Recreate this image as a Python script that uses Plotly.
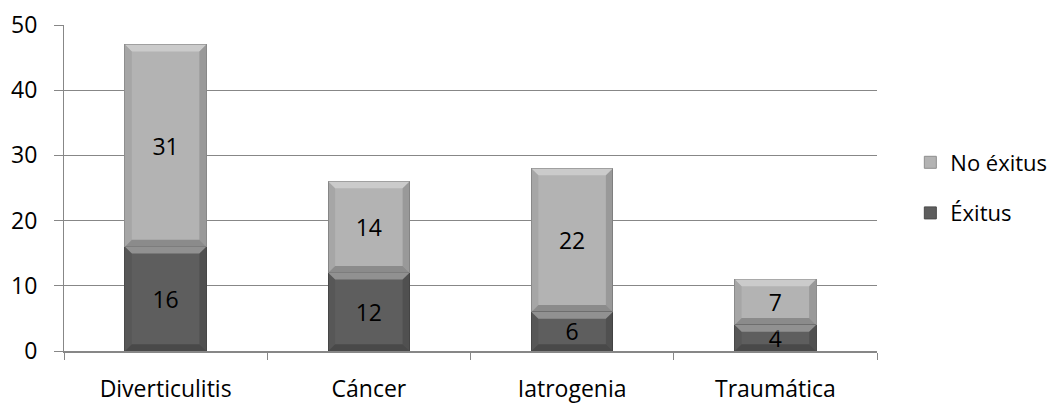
import plotly.graph_objects as go

# Stacked counts per aetiology
categorias = ["Diverticulitis", "Cáncer", "Iatrogenia", "Traumática"]
exitus = [16, 12, 6, 4]
no_exitus = [31, 14, 22, 7]
y_ticks = [0, 10, 20, 30, 40, 50]

FONT = "'Open Sans', Lato, 'Liberation Sans', sans-serif"
FS = 23
BAR_W = 0.4
GRID = "#878787"

x_idx = list(range(len(categorias)))

fig = go.Figure()
fig.add_trace(go.Bar(
    name="Éxitus", x=x_idx, y=exitus, width=BAR_W,
    marker=dict(color="#5e5e5e", line=dict(color="#4a4a4a", width=1)),
    text=exitus, textposition="inside", insidetextanchor="middle", textangle=0,
    textfont=dict(color="#000000", size=FS, family=FONT),
    legendgroup="a", legendrank=2,
))
fig.add_trace(go.Bar(
    name="No éxitus", x=x_idx, y=no_exitus, width=BAR_W,
    marker=dict(color="#b3b3b3", line=dict(color="#8e8e8e", width=1)),
    text=no_exitus, textposition="inside", insidetextanchor="middle", textangle=0,
    textfont=dict(color="#000000", size=FS, family=FONT),
    legendgroup="b", legendrank=1,
))

# Bevelled edges on every stacked segment, derived from the stacked values
bx = 0.034
by = 1.05
shapes = []
for i, (lo, hi) in enumerate(zip(exitus, no_exitus)):
    for y0, y1 in ((0, lo), (lo, lo + hi)):
        x0, x1 = i - BAR_W / 2, i + BAR_W / 2
        faces = [
            ([(x0, y1), (x1, y1), (x1 - bx, y1 - by), (x0 + bx, y1 - by)], "rgba(255,255,255,0.32)"),
            ([(x0, y0), (x1, y0), (x1 - bx, y0 + by), (x0 + bx, y0 + by)], "rgba(0,0,0,0.22)"),
            ([(x0, y0), (x0, y1), (x0 + bx, y1 - by), (x0 + bx, y0 + by)], "rgba(0,0,0,0.07)"),
            ([(x1, y0), (x1, y1), (x1 - bx, y1 - by), (x1 - bx, y0 + by)], "rgba(0,0,0,0.14)"),
        ]
        for pts, col in faces:
            path = "M " + " L ".join(f"{px},{py}" for px, py in pts) + " Z"
            shapes.append(dict(type="path", path=path, xref="x", yref="y",
                               fillcolor=col, line=dict(width=0), layer="above"))

fig.update_layout(
    barmode="stack",
    width=1059, height=403,
    margin=dict(l=64, r=182, t=25, b=52, autoexpand=False),
    paper_bgcolor="white", plot_bgcolor="white",
    font=dict(family=FONT, size=FS, color="#000000"),
    showlegend=True,
    legend=dict(x=1.041, xanchor="left", y=0.5, yanchor="middle",
                traceorder="grouped", tracegroupgap=19,
                font=dict(size=22), itemwidth=30),
    uniformtext=dict(minsize=FS, mode="show"),
    shapes=shapes,
)
fig.update_xaxes(
    range=[-0.5, len(categorias) - 0.5],
    tickvals=x_idx, ticktext=categorias, ticks="",
    showgrid=False, zeroline=False, automargin=False,
    showline=True, linecolor=GRID, linewidth=2,
    minor=dict(ticks="outside", tick0=-0.5, dtick=1, ticklen=7,
               tickcolor=GRID, tickwidth=1, showgrid=False),
    ticklabelstandoff=16,
    tickfont=dict(size=FS),
)
fig.update_yaxes(
    range=[0, 50], tickvals=y_ticks, automargin=False,
    ticks="outside", ticklen=9, tickcolor=GRID, tickwidth=1,
    showgrid=True, gridcolor=GRID, gridwidth=1,
    zeroline=False, showline=True, linecolor=GRID, linewidth=1,
    ticklabelstandoff=12,
    tickfont=dict(size=FS),
)

fig.write_html("out.html")
